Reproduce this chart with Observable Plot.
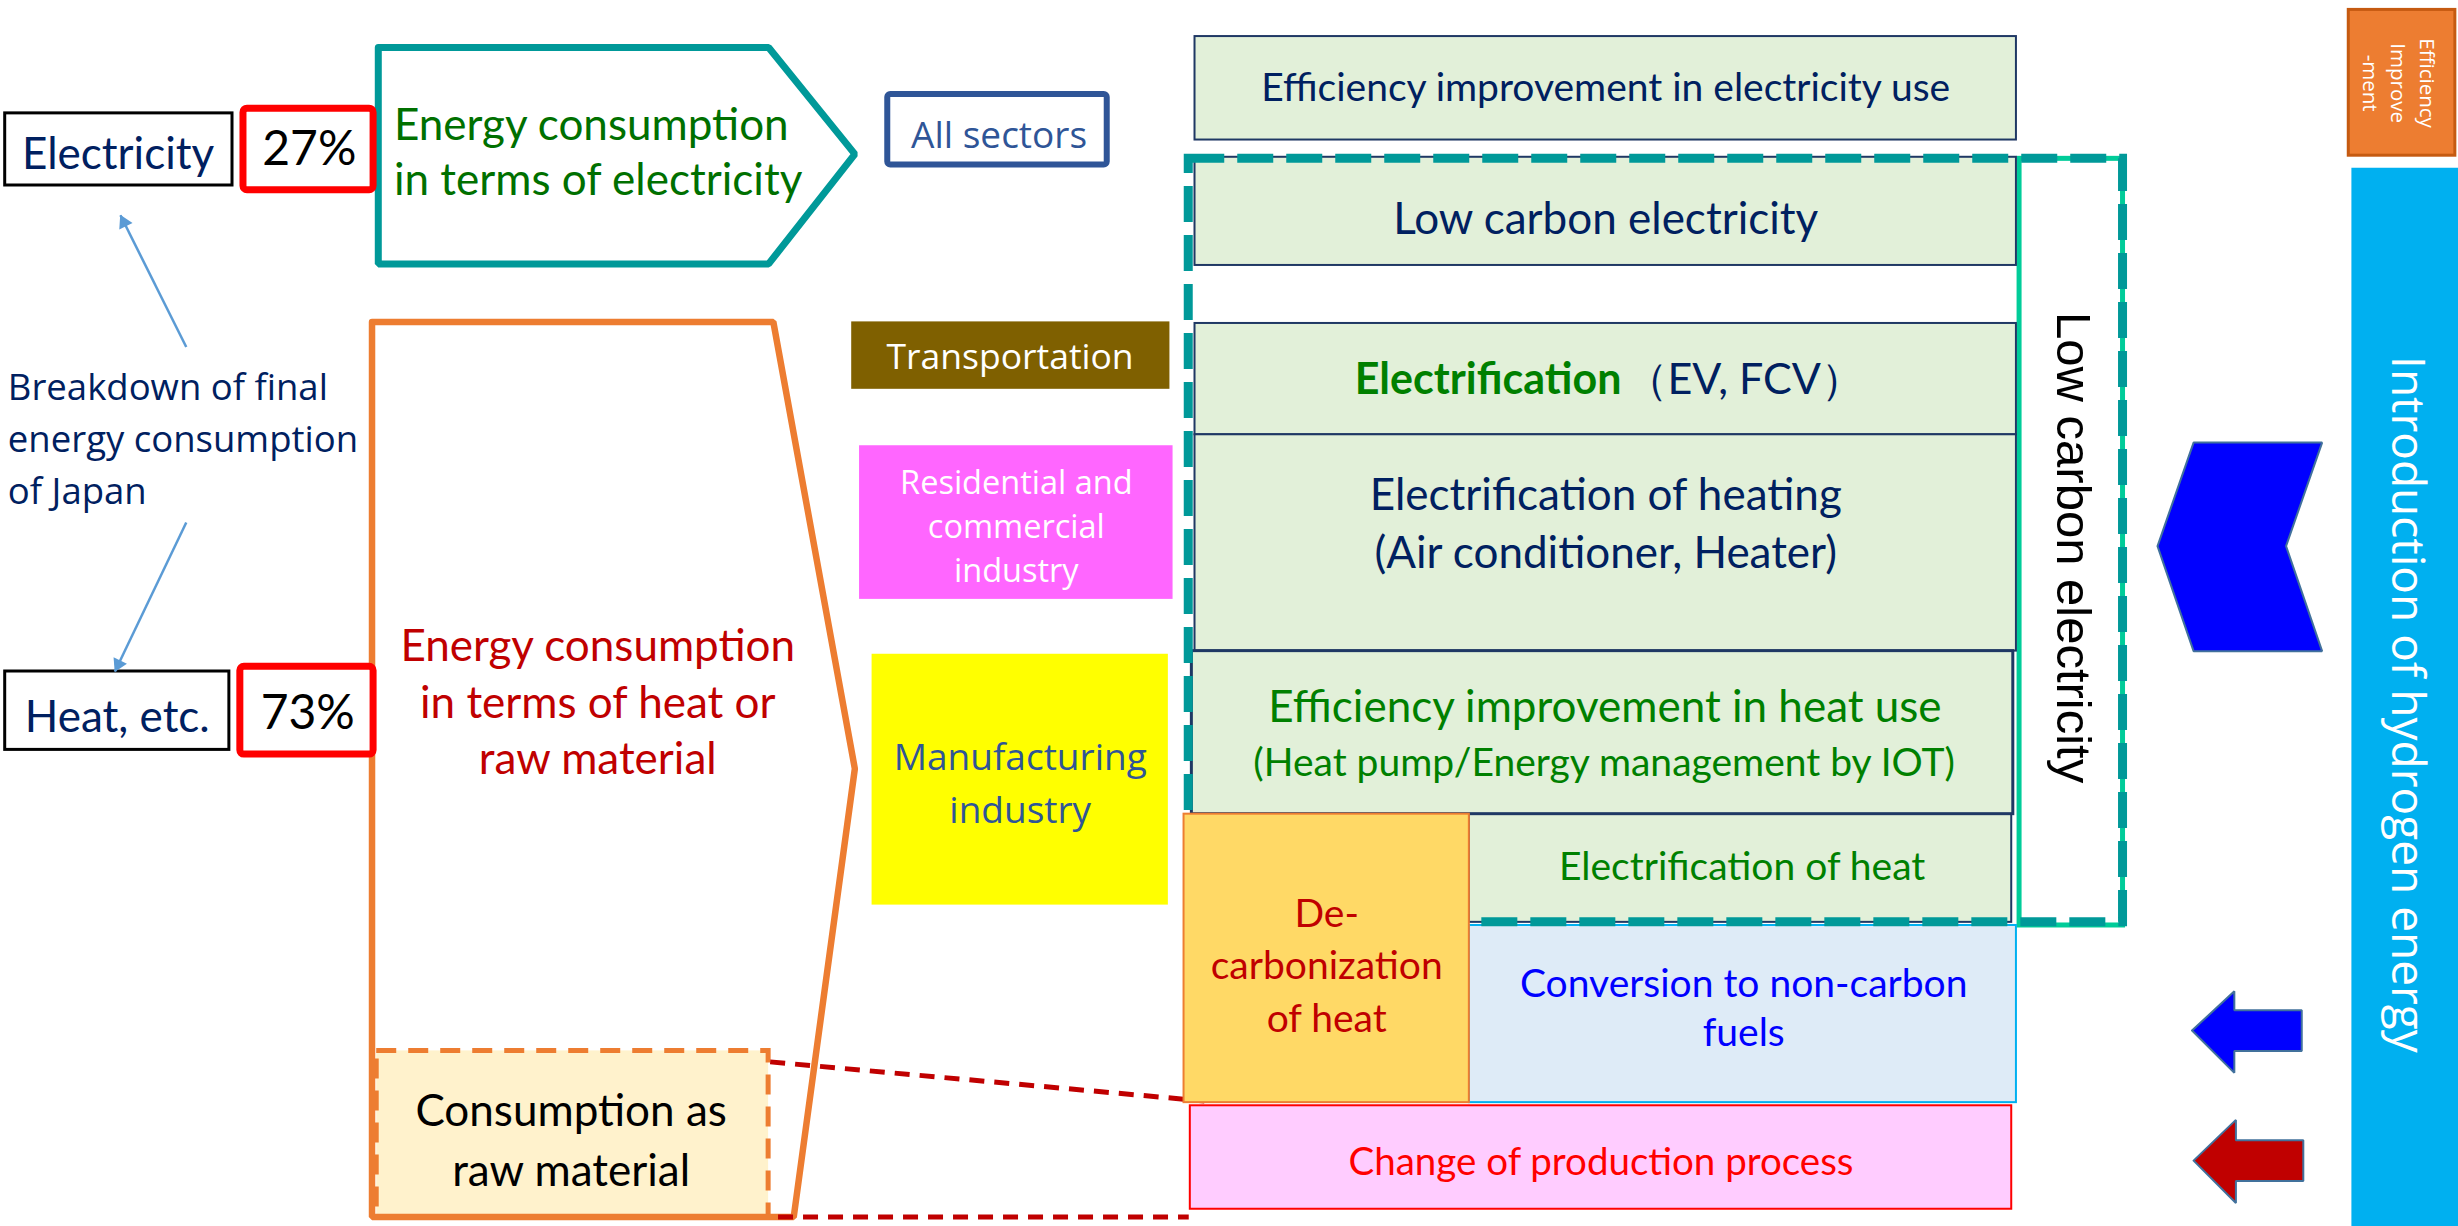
<!DOCTYPE html>
<html>
<head>
<meta charset="utf-8">
<script src="https://cdn.jsdelivr.net/npm/d3@7"></script>
<script src="https://cdn.jsdelivr.net/npm/@observablehq/plot@0.6"></script>
<style>
  html, body { margin: 0; padding: 0; background: #ffffff; }
  #chart svg { display: block; }
</style>
</head>
<body>
<div id="chart"></div>
<script>
// ---------- DATA (diagram units: 1568 x 782 reference grid) ----------
const shareBoxes = [
  {label: "Electricity", x1: 3, x2: 148, y1: 72, y2: 118},
  {label: "Heat, etc.", x1: 3, x2: 146, y1: 428, y2: 478}
];
const percentBoxes = [
  {label: "27%", x1: 155, x2: 238, y1: 69, y2: 121},
  {label: "73%", x1: 153, x2: 238, y1: 425, y2: 481}
];
const breakdownArrows = [
  {x1: 118.5, y1: 221, x2: 76.5, y2: 137},
  {x1: 118.5, y1: 333, x2: 73, y2: 428}
];
const electricityShape = [[241, 30], [490, 30], [545, 98], [490, 168], [241, 168], [241, 30]];
const heatShape = [[237, 205], [493, 205], [545, 490], [506, 776], [237, 776], [237, 205]];
const rawMaterialBox = [{x1: 240, x2: 490, y1: 670, y2: 776}];
const rawMaterialLinks = [
  {x1: 491, y1: 677, x2: 768, y2: 702},
  {x1: 496, y1: 776, x2: 758, y2: 776}
];
const allSectorsBox = [{x1: 566, x2: 706, y1: 60, y2: 105}];
const transportBox = [{x1: 543, x2: 746, y1: 205, y2: 248}];
const residentialBox = [{x1: 548, x2: 748, y1: 284, y2: 382}];
const manufacturingBox = [{x1: 556, x2: 745, y1: 417, y2: 577}];
const measureBoxes = [
  {x1: 762, x2: 1286, y1: 23, y2: 89},
  {x1: 762, x2: 1286, y1: 100, y2: 169},
  {x1: 762, x2: 1286, y1: 206, y2: 277},
  {x1: 762, x2: 1286, y1: 277, y2: 415},
  {x1: 937, x2: 1283, y1: 519, y2: 588}
];
const heatUseBox = [{x1: 760, x2: 1284, y1: 415, y2: 519}];
const lowCarbonColumn = [{x1: 1288, x2: 1354, y1: 101, y2: 590}];
const lowCarbonFrame = [{x1: 758, x2: 1354, y1: 101, y2: 588}];
const decarbBox = [{x1: 755, x2: 937, y1: 519, y2: 703}];
const conversionBox = [{x1: 937, x2: 1286, y1: 590, y2: 703}];
const processBox = [{x1: 759, x2: 1283, y1: 705, y2: 771}];
const efficiencyTag = [{x1: 1498, x2: 1566, y1: 6, y2: 99}];
const hydrogenBar = [{x1: 1500, x2: 1568, y1: 107, y2: 782}];
const chevron = [[1376, 348], [1399, 282], [1481, 282], [1458, 348], [1481, 415], [1399, 415], [1376, 348]];
const blueArrow = [[1398, 657], [1425, 632], [1425, 644], [1468, 644], [1468, 670], [1425, 670], [1425, 684], [1398, 657]];
const redArrow = [[1399, 740], [1426, 714], [1426, 727], [1469, 727], [1469, 753], [1426, 753], [1426, 767], [1399, 740]];

// text labels
const navyLabels = [
  {text: "Electricity", x: 75, y: 95.5},
  {text: "Heat, etc.", x: 74.5, y: 455},
  {text: "Low carbon electricity", x: 1024, y: 137},
  {text: "Electrification of heating\n(Air conditioner, Heater)", x: 1024, y: 331.5}
];
const navySmallLabels = [{text: "Efficiency improvement in electricity use", x: 1024, y: 56}];
const percentLabels = [{text: "27%", x: 197, y: 95}, {text: "73%", x: 196, y: 455}];
const electricityLabel = [{text: "Energy consumption\nin terms of electricity", x: 251, y: 95.5}];
const heatUseLabel = [{text: "Efficiency improvement in heat use", x: 1023.5, y: 451}];
const greenSmallLabels = [
  {text: "(Heat pump/Energy management by IOT)", x: 1023, y: 487},
  {text: "Electrification of heat", x: 1111, y: 553}
];
const evBold = [{text: "Electrification", x: 1034, y: 242}];
const evRest = [{text: "（EV, FCV）", x: 1036, y: 242}];
const decarbLabel = [{text: "De-\ncarbonization\nof heat", x: 846, y: 613.5}];
const conversionLabel = [{text: "Conversion to non-carbon\nfuels", x: 1112, y: 641.5}];
const processLabel = [{text: "Change of production process", x: 1021, y: 741}];
const heatLabel = [{text: "Energy consumption\nin terms of heat or\nraw material", x: 381, y: 446}];
const rawLabel = [{text: "Consumption as\nraw material", x: 364, y: 725}];
const breakdownLabel = [{text: "Breakdown of final\nenergy consumption\nof Japan", x: 4.7, y: 277.5}];
const blueSectorLabels = [
  {text: "All sectors", x: 637, y: 83},
  {text: "Manufacturing\nindustry", x: 650.5, y: 497}
];
const transportLabel = [{text: "Transportation", x: 644, y: 228}];
const residentialLabel = [{text: "Residential and\ncommercial\nindustry", x: 648, y: 334}];
const lowCarbonLabel = [{text: "Low carbon electricity", x: 1322, y: 349}];
const hydrogenLabel = [{text: "Introduction of hydrogen energy", x: 1535, y: 449}];
const efficiencyTagLabel = [{text: "Efficiency\nImprove\n-ment", x: 1531, y: 52.7}];

// ---------- helpers ----------
const W = 2458, H = 1226;
const sx = W / 1568, sy = H / 782;
const pts = (arr) => arr.map(([x, y]) => ({x, y}));
const box = {x1: "x1", x2: "x2", y1: "y1", y2: "y2"};
const LATO = "Lato, 'Noto Sans', sans-serif";
const OPEN = "'Open Sans', 'Noto Sans', sans-serif";
const ARIAL = "'Liberation Sans', Arial, sans-serif";
const txt = (data, o) => Plot.text(data, {x: "x", y: "y", text: "text", lineAnchor: "middle", ...o});

const arrowHeads = breakdownArrows.map(d => {
  const dx = (d.x2 - d.x1) * sx, dy = (d.y2 - d.y1) * sy, len = Math.hypot(dx, dy);
  const back = 8;
  return {x: d.x2 - dx / len * back / sx, y: d.y2 - dy / len * back / sy, angle: Math.atan2(dx, -dy) * 180 / Math.PI};
});

const chart = Plot.plot({
  width: W,
  height: H,
  margin: 0,
  x: {domain: [0, 1568], range: [0, W], axis: null},
  y: {domain: [0, 782], range: [0, H], axis: null},
  style: {background: "white", overflow: "visible"},
  marks: [
    // left side
    Plot.line(pts(electricityShape), {x: "x", y: "y", stroke: "#009999", strokeWidth: 7, fill: "white", strokeLinejoin: "miter"}),
    Plot.rect(rawMaterialBox, {...box, fill: "#FFF2CC", stroke: "#ED7D31", strokeWidth: 5, strokeDasharray: "20,12"}),
    Plot.line(pts(heatShape), {x: "x", y: "y", stroke: "#ED7D31", strokeWidth: 6.5, fill: "none", strokeLinejoin: "miter"}),
    Plot.link(rawMaterialLinks, {x1: "x1", y1: "y1", x2: "x2", y2: "y2", stroke: "#C00000", strokeWidth: 5, strokeDasharray: "15,10"}),
    Plot.rect(shareBoxes, {...box, fill: "white", stroke: "#000000", strokeWidth: 3}),
    Plot.rect(percentBoxes, {...box, fill: "white", stroke: "#FF0000", strokeWidth: 7, rx: 4}),
    Plot.link(breakdownArrows, {x1: "x1", y1: "y1", x2: "x2", y2: "y2", stroke: "#5B9BD5", strokeWidth: 2.5}),
    Plot.dot(arrowHeads, {x: "x", y: "y", symbol: "triangle", r: 5.5, fill: "#5B9BD5", rotate: "angle"}),
    // sectors
    Plot.rect(allSectorsBox, {...box, fill: "white", stroke: "#2F5597", strokeWidth: 6, rx: 3}),
    Plot.rect(transportBox, {...box, fill: "#7F6000"}),
    Plot.rect(residentialBox, {...box, fill: "#FF66FF"}),
    Plot.rect(manufacturingBox, {...box, fill: "#FFFF00"}),
    // measures
    Plot.rect(lowCarbonColumn, {...box, fill: "white", stroke: "#00CC99", strokeWidth: 5}),
    Plot.rect(measureBoxes, {...box, fill: "#E2F0D9", stroke: "#1F3864", strokeWidth: 2}),
    Plot.rect(heatUseBox, {...box, fill: "#E2F0D9", stroke: "#1F3864", strokeWidth: 3}),
    Plot.rect(conversionBox, {...box, fill: "#DEEBF7", stroke: "#00B0F0", strokeWidth: 2}),
    Plot.rect(lowCarbonFrame, {...box, fill: "none", stroke: "#009999", strokeWidth: 9, strokeDasharray: "36,13"}),
    Plot.rect(decarbBox, {...box, fill: "#FFD966", stroke: "#ED7D31", strokeWidth: 2}),
    Plot.rect(processBox, {...box, fill: "#FFCCFF", stroke: "#FF0000", strokeWidth: 2}),
    // right side
    Plot.rect(efficiencyTag, {...box, fill: "#ED7D31", stroke: "#C55A11", strokeWidth: 3}),
    Plot.rect(hydrogenBar, {...box, fill: "#00B0F0"}),
    Plot.line(pts(chevron), {x: "x", y: "y", fill: "#0000FF", stroke: "#41719C", strokeWidth: 2, strokeLinejoin: "miter"}),
    Plot.line(pts(blueArrow), {x: "x", y: "y", fill: "#0000FF", stroke: "#41719C", strokeWidth: 2, strokeLinejoin: "miter"}),
    Plot.line(pts(redArrow), {x: "x", y: "y", fill: "#C00000", stroke: "#41719C", strokeWidth: 2, strokeLinejoin: "miter"}),
    // texts
    txt(navyLabels, {fontFamily: LATO, fontSize: 44, fill: "#002060", lineHeight: 1.32}),
    txt(navySmallLabels, {fontFamily: LATO, fontSize: 39, fill: "#002060"}),
    txt(percentLabels, {fontFamily: LATO, fontSize: 48, fill: "#000000"}),
    txt(electricityLabel, {fontFamily: LATO, fontSize: 44, fill: "#007000", textAnchor: "start", lineHeight: 1.25}),
    txt(heatUseLabel, {fontFamily: LATO, fontSize: 44, fill: "#008000"}),
    txt(greenSmallLabels, {fontFamily: LATO, fontSize: 39, fill: "#008000"}),
    txt(evBold, {fontFamily: LATO, fontSize: 43, fontWeight: "bold", fill: "#008000", textAnchor: "end"}),
    txt(evRest, {fontFamily: LATO, fontSize: 43, fill: "#002060", textAnchor: "start"}),
    txt(decarbLabel, {fontFamily: LATO, fontSize: 39, fill: "#C00000", lineHeight: 1.35}),
    txt(conversionLabel, {fontFamily: LATO, fontSize: 39, fill: "#0000FF", lineHeight: 1.25}),
    txt(processLabel, {fontFamily: LATO, fontSize: 38.5, fill: "#FF0000"}),
    txt(heatLabel, {fontFamily: LATO, fontSize: 44, fill: "#C00000", lineHeight: 1.28}),
    txt(rawLabel, {fontFamily: LATO, fontSize: 44, fill: "#000000", lineHeight: 1.35}),
    txt(breakdownLabel, {fontFamily: OPEN, fontSize: 36.5, fill: "#002060", textAnchor: "start", lineHeight: 1.42}),
    txt(blueSectorLabels, {fontFamily: OPEN, fontSize: 37, fill: "#2F5597", lineHeight: 1.44}),
    txt(transportLabel, {fontFamily: OPEN, fontSize: 35.5, fill: "white"}),
    txt(residentialLabel, {fontFamily: OPEN, fontSize: 32.5, fill: "white", lineHeight: 1.35}),
    txt(lowCarbonLabel, {fontFamily: ARIAL, fontSize: 49, fill: "#000000", rotate: 90}),
    txt(hydrogenLabel, {fontFamily: OPEN, fontSize: 46, fill: "white", rotate: 90}),
    txt(efficiencyTagLabel, {fontFamily: OPEN, fontSize: 20.5, fill: "white", rotate: 90, lineHeight: 1.4})
  ]
});
document.getElementById("chart").append(chart);
</script>
</body>
</html>
